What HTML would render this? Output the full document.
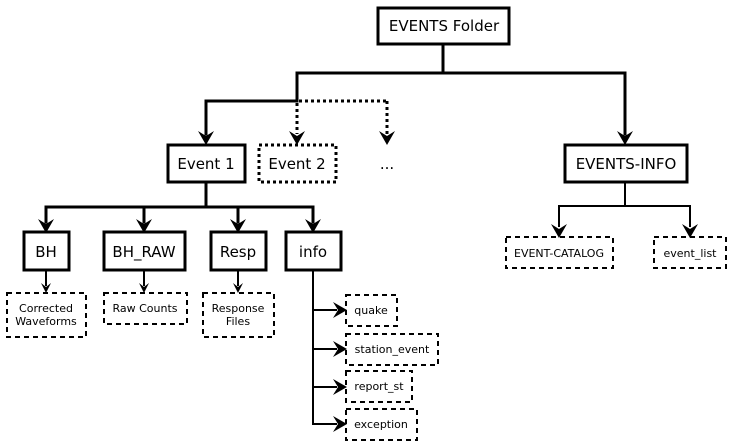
<!DOCTYPE html>
<html><head><meta charset="utf-8"><style>
html,body{margin:0;padding:0;background:#fff;}
svg{display:block;}
text{font-family:"DejaVu Sans","Liberation Sans",sans-serif;fill:#000;text-anchor:middle;}
.b{font-size:15px;}
.s{font-size:11px;}
</style></head><body>
<svg width="732" height="447" viewBox="0 0 732 447" xmlns="http://www.w3.org/2000/svg">
<defs>
<path id="ad" d="M0,1 L-8,-13 L0,-8 L8,-13 Z"/>
<path id="as" d="M0,0 L-5,-10 L0,-6 L5,-10 Z"/>
<path id="ar" d="M1,0 L-13,-8 L-8,0 L-13,8 Z"/>
</defs>
<g fill="none" stroke="#000">
<g stroke-width="3" stroke-linecap="square">
<path d="M443,44 V73 M297,73 H625 M297,73 V101 M206,101 H297 M206,101 V134 M625,73 V134"/>
<path d="M206,182 V207 M46,207 H313 M46,207 V222 M144,207 V222 M238,207 V222 M313,207 V222"/>
</g>
<g stroke-width="3" stroke-dasharray="3,3">
<path d="M299,101 H387 M387,101 V134 M297,103 V134"/>
</g>
<g stroke-width="2" stroke-linecap="square">
<path d="M625,182 V206 M559,206 H690 M559,206 V226 M690,206 V226"/>
<path d="M46,271 V285 M144,271 V285 M238,271 V285"/>
<path d="M313,271 V424 M313,310 H336 M313,349 H336 M313,387 H336 M313,424 H336"/>
</g>
<g stroke-width="3">
<rect x="378" y="8" width="131" height="36"/>
<rect x="168" y="145" width="77" height="37"/>
<rect x="565" y="145" width="122" height="37"/>
<rect x="24" y="232" width="45" height="38"/>
<rect x="104" y="232" width="81" height="38"/>
<rect x="211" y="232" width="55" height="38"/>
<rect x="286" y="232" width="55" height="38"/>
</g>
<rect x="259" y="145" width="77" height="37" stroke-width="3" stroke-dasharray="3,3"/>
<g stroke-width="2" stroke-dasharray="5,4">
<rect x="506" y="237" width="107" height="31"/>
<rect x="654" y="237" width="72" height="31"/>
<rect x="7" y="293" width="79" height="44"/>
<rect x="104" y="293" width="83" height="31"/>
<rect x="203" y="293" width="71" height="44"/>
<rect x="346" y="295" width="51" height="31"/>
<rect x="346" y="334" width="92" height="31"/>
<rect x="346" y="371" width="66" height="31"/>
<rect x="346" y="409" width="71" height="31"/>
</g>
</g>
<g fill="#000">
<use href="#ad" x="206" y="144"/>
<use href="#ad" x="297" y="144"/>
<use href="#ad" x="387" y="144"/>
<use href="#ad" x="625" y="144"/>
<use href="#ad" x="46" y="232"/>
<use href="#ad" x="144" y="232"/>
<use href="#ad" x="238" y="232"/>
<use href="#ad" x="313" y="232"/>
<use href="#ad" x="559" y="237"/>
<use href="#ad" x="690" y="237"/>
<use href="#as" x="46" y="293"/>
<use href="#as" x="144" y="293"/>
<use href="#as" x="238" y="293"/>
<use href="#ar" x="346" y="310"/>
<use href="#ar" x="346" y="349"/>
<use href="#ar" x="346" y="387"/>
<use href="#ar" x="346" y="424"/>
</g>
<text class="b" x="444" y="31">EVENTS Folder</text>
<text class="b" x="206" y="169">Event 1</text>
<text class="b" x="297" y="169">Event 2</text>
<text class="b" x="387" y="169">...</text>
<text class="b" x="626" y="169">EVENTS-INFO</text>
<text class="b" x="46" y="257">BH</text>
<text class="b" x="144" y="257">BH_RAW</text>
<text class="b" x="238" y="257">Resp</text>
<text class="b" x="313" y="257">info</text>
<text class="s" x="559" y="257">EVENT-CATALOG</text>
<text class="s" x="690" y="257">event_list</text>
<text class="s" x="46" y="312">Corrected</text>
<text class="s" x="46" y="325">Waveforms</text>
<text class="s" x="145" y="312">Raw Counts</text>
<text class="s" x="238" y="312">Response</text>
<text class="s" x="238" y="325">Files</text>
<text class="s" x="371" y="314">quake</text>
<text class="s" x="392" y="353">station_event</text>
<text class="s" x="379" y="390">report_st</text>
<text class="s" x="381" y="428">exception</text>
</svg>
</body></html>
